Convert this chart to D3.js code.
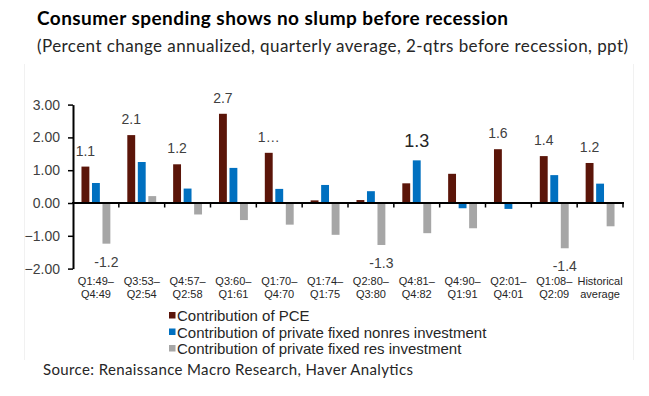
<!DOCTYPE html>
<html>
<head>
<meta charset="utf-8">
<script src="https://cdn.jsdelivr.net/npm/d3@7"></script>
<style>
  html, body { margin: 0; padding: 0; background: #ffffff; }
  svg { display: block; }
</style>
</head>
<body>
<svg id="chart" width="649" height="396"></svg>
<script>
// ---- Data ----
const categories = ["Q1:49–|Q4:49","Q3:53–|Q2:54","Q4:57–|Q2:58","Q3:60–|Q1:61","Q1:70–|Q4:70",
  "Q1:74–|Q1:75","Q2:80–|Q3:80","Q4:81–|Q4:82","Q4:90–|Q1:91","Q2:01–|Q4:01","Q1:08–|Q2:09","Historical|average"];
const seriesNames = ["Contribution of PCE","Contribution of private fixed nonres investment","Contribution of private fixed res investment"];
const pce    = [1.11, 2.07, 1.18, 2.72, 1.53, 0.08, 0.09, 0.60, 0.89, 1.64, 1.43, 1.22];
const nonres = [0.61, 1.25, 0.44, 1.07, 0.43, 0.55, 0.36, 1.30, -0.16, -0.18, 0.85, 0.59];
const res    = [-1.24, 0.21, -0.35, -0.52, -0.66, -0.97, -1.28, -0.92, -0.77, 0.01, -1.38, -0.71];
const pceLabels    = ["1.1","2.1","1.2","2.7","1…",null,null,null,null,"1.6","1.4","1.2"];
const nonresLabels = [null,null,null,null,null,null,null,"1.3",null,null,null,null];
const resLabels    = ["-1.2",null,null,null,null,null,"-1.3",null,null,null,"-1.4",null];
const yTicks = [3, 2, 1, 0, -1, -2];
const colors = ["#5B1509", "#0070C0", "#A6A6A6"];

const svg = d3.select("#chart");

// faint frame lines
svg.append("line").attr("x1",24.5).attr("x2",24.5).attr("y1",64).attr("y2",360).attr("stroke","#f1f1f1");
svg.append("line").attr("x1",633.5).attr("x2",633.5).attr("y1",64).attr("y2",360).attr("stroke","#f1f1f1");

// Titles
svg.append("text").attr("x",37).attr("y",25)
  .attr("font-family","Lato, 'Open Sans', sans-serif").attr("font-weight","bold")
  .attr("font-size",19).attr("fill","#000").attr("textLength",471).attr("lengthAdjust","spacing")
  .text("Consumer spending shows no slump before recession");
svg.append("text").attr("x",37).attr("y",52)
  .attr("font-family","Lato, 'Open Sans', sans-serif")
  .attr("font-size",17).attr("fill","#262626").attr("textLength",591).attr("lengthAdjust","spacing")
  .text("(Percent change annualized, quarterly average, 2-qtrs before recession, ppt)");

// Scales
const x0 = d3.scaleBand().domain(categories).range([73, 623]).paddingInner(0.37).paddingOuter(0.185);
const x1 = d3.scaleBand().domain([0,1,2]).range([0, x0.bandwidth()]).paddingInner(0.25);
const y = d3.scaleLinear().domain([-2, 3]).range([268.6, 104.6]);

const allSeries = [pce, nonres, res];
const allLabels = [pceLabels, nonresLabels, resLabels];

// Bars
allSeries.forEach((vals, si) => {
  svg.append("g").selectAll("rect").data(vals).join("rect")
    .attr("x", (d, i) => x0(categories[i]) + x1(si))
    .attr("width", x1.bandwidth())
    .attr("y", d => y(Math.max(0, d)))
    .attr("height", d => Math.abs(y(d) - y(0)))
    .attr("fill", colors[si]);
});

// Y axis
const yAxis = svg.append("g").attr("transform","translate(73,0)")
  .call(d3.axisLeft(y).tickValues(yTicks).tickFormat(d3.format(".2f")).tickSize(5).tickPadding(8).tickSizeOuter(0));
yAxis.select(".domain").attr("stroke","#000").attr("stroke-width",2);
yAxis.selectAll(".tick line").attr("stroke","#000").attr("stroke-width",1.5);
yAxis.selectAll(".tick text").attr("font-family","'Liberation Sans', Arial, sans-serif").attr("font-size",14).attr("fill","#404040");

// X axis line with boundary ticks
const xg = svg.append("g");
xg.append("line").attr("x1",72).attr("x2",624).attr("y1",y(0)).attr("y2",y(0)).attr("stroke","#000").attr("stroke-width",2);
const boundaries = categories.map(c => x0(c) - x0.step()*x0.paddingInner()/2).slice(1).concat([623]);
xg.selectAll("line.b").data(boundaries).join("line").attr("class","b")
  .attr("x1", d=>d).attr("x2", d=>d).attr("y1", y(0)).attr("y2", y(0)+4.5)
  .attr("stroke","#000").attr("stroke-width",1.5);

// X category labels
const xl = svg.append("g").attr("font-family","'Liberation Sans', Arial, sans-serif").attr("font-size",11).attr("fill","#262626").attr("text-anchor","middle");
categories.forEach(c => {
  const parts = c.split("|");
  const cx = x0(c) + x0.bandwidth()/2;
  const t = xl.append("text").attr("x", cx).attr("y", 285);
  t.append("tspan").attr("x", cx).attr("dy", 0).text(parts[0]);
  t.append("tspan").attr("x", cx).attr("dy", 12.5).text(parts[1]);
});

// Data labels
const lg = svg.append("g").attr("font-family","'Liberation Sans', Arial, sans-serif").attr("text-anchor","middle");
allLabels.forEach((labs, si) => {
  labs.forEach((lab, i) => {
    if (!lab) return;
    const v = allSeries[si][i];
    const cx = x0(categories[i]) + x1(si) + x1.bandwidth()/2;
    const big = si === 1;
    lg.append("text").attr("x", cx)
      .attr("y", v >= 0 ? y(v) - (big ? 13 : 11) : y(v) + 23)
      .attr("font-size", big ? 18 : 14)
      .attr("fill", big ? "#262626" : "#404040")
      .text(lab);
  });
});

// Legend
const leg = svg.append("g").attr("font-family","'Liberation Sans', Arial, sans-serif").attr("font-size",15).attr("fill","#262626");
seriesNames.forEach((n, i) => {
  const yy = 321 + i * 16.5;
  leg.append("rect").attr("x",169).attr("y",yy-9).attr("width",6.5).attr("height",6.5).attr("fill",colors[i]);
  leg.append("text").attr("x",177).attr("y",yy).text(n);
});

// Source
svg.append("text").attr("x",43).attr("y",375)
  .attr("font-family","Lato, 'Open Sans', sans-serif").attr("font-size",15).attr("fill","#262626")
  .attr("textLength",370).attr("lengthAdjust","spacing")
  .text("Source: Renaissance Macro Research, Haver Analytics");
</script>
</body>
</html>
